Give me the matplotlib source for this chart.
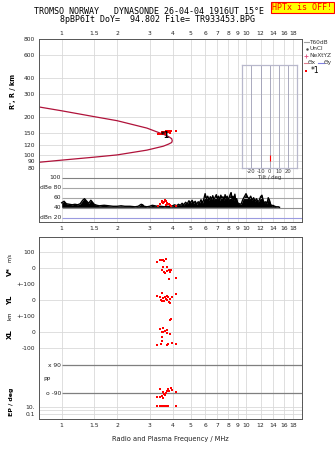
import matplotlib
matplotlib.use('Agg')
import matplotlib.pyplot as plt
import numpy as np

# frequency axis
freq_ticks = [1, 1.5, 2, 3, 4, 5, 6, 7, 8, 9, 10, 12, 14, 16, 18]
freq_labels = ['1', '1.5', '2', '3', '4', '5', '6', '7', '8', '9', '10', '12', '14', '16', '18']
f_lim = (0.756, 20.05)

# height axis
h_ticks = [80, 90, 100, 120, 150, 200, 300, 400, 600, 800]

# R' trace (upper branch then back along the lower branch)
trace_f = [0.75, 1.0, 1.5, 2.0, 2.9, 3.3, 3.6, 3.8, 3.95, 3.98, 3.95, 3.8, 3.56, 2.9, 2.0, 1.5, 1.0, 0.75]
trace_h = [238, 222, 200, 186, 163, 152, 145, 140, 135, 130, 126, 122.5, 118, 110, 101, 97, 92, 88.5]

# echoes of cluster *1
echo_f = [3.35, 3.42, 3.48, 3.52, 3.56, 3.6, 3.64, 3.68, 3.72, 3.76, 3.8, 3.85, 3.5, 3.62, 3.7, 3.9, 4.17]
echo_h = [147, 148, 150, 152, 151, 153, 150, 155, 154, 152, 155, 150, 146, 147, 149, 156, 156]
echo_db = [44, 47, 52, 54, 49, 52, 55, 53, 50, 48, 47, 46, 51, 53, 45, 44, 44]

# receiver noise
noise_f = [1.00, 1.03, 1.06, 1.10, 1.14, 1.18, 1.22, 1.26, 1.30, 1.33,
           1.36, 1.40, 1.44, 1.47, 1.50, 1.55, 1.60, 1.70, 1.80, 1.90,
           2.00, 2.10, 2.20, 2.35, 2.50, 2.60, 2.70, 2.75, 2.80, 2.90,
           3.00, 3.10, 3.20, 3.30, 3.45, 3.60, 3.75, 3.90, 4.00, 4.10,
           4.20, 4.30, 4.40, 4.50, 4.60, 4.70, 4.80, 4.90, 5.00, 5.10,
           5.20, 5.30, 5.40, 5.50, 5.60, 5.70, 5.80, 5.90, 6.00, 6.10,
           6.20, 6.30, 6.40, 6.50, 6.60, 6.70, 6.80, 6.90, 7.00, 7.10,
           7.20, 7.30, 7.40, 7.50, 7.60, 7.70, 7.80, 7.90, 8.00, 8.10,
           8.20, 8.30, 8.40, 8.50, 8.60, 8.70, 8.80, 8.90, 9.00, 9.20,
           9.40, 9.60, 9.80, 10.0, 10.2, 10.4, 10.6, 10.8, 11.0, 11.2,
           11.4, 11.6, 11.8, 12.0, 12.2, 12.4, 12.6, 12.8, 13.0, 13.2,
           13.4, 13.6, 13.8, 14.0, 14.3, 14.6, 15.0, 15.2]
noise_db = [50, 53, 48, 47, 46, 47, 46, 48, 55, 58,
            54, 49, 55, 51, 47, 45, 44, 45, 44, 43,
            43, 44, 43, 43, 42, 43, 47, 46, 43, 42,
            43, 45, 44, 43, 43, 42, 43, 42, 44, 46,
            44, 47, 45, 49, 46, 51, 48, 54, 50, 55,
            49, 53, 47, 52, 50, 56, 49, 57, 68, 58,
            63, 55, 62, 57, 64, 56, 61, 66, 58, 63,
            54, 65, 59, 62, 55, 66, 58, 63, 56, 60,
            66, 70, 57, 63, 55, 67, 52, 58, 50, 48,
            47, 56, 62, 68, 61, 58, 63, 55, 60, 53,
            58, 52, 55, 62, 65, 54, 50, 52, 48, 60,
            55, 47, 44, 45, 43, 42, 42, 41]

# Doppler velocity and echo location
v_f = [3.28, 3.42, 3.48, 3.56, 3.58, 3.66, 3.48, 3.56, 3.71, 3.63, 3.6, 3.75, 3.82, 3.93, 3.82, 4.16, 3.86]
v_ms = [37, 50, 54, 50, 42, 58, -12, 4, 8, -33, -26, -17, -12, -10, -69, -60, -22]
yl_f = [3.28, 3.42, 3.51, 3.46, 3.56, 3.63, 3.71, 3.79, 3.87, 3.95, 4.16, 3.48, 3.58, 3.75, 3.82, 3.88, 3.68]
yl_km = [25, 19, 44, 0, 10, 17, 25, 17, 8, 21, 37, -6, -4, -2, -12, -17, 4]
xl_f = [3.87, 3.93, 3.42, 3.53, 3.48, 3.56, 3.63, 3.71, 3.75, 3.87, 3.48, 3.48, 3.28, 3.46, 3.71, 3.79, 3.95, 4.16]
xl_km = [75, 83, 17, 25, 2, -2, 6, 13, -4, -12, -33, -54, -81, -75, -81, -75, -71, -75]

# polarization and elevation
pp_f = [3.42, 3.56, 3.63, 3.48, 3.71, 3.79, 3.9, 3.84, 3.95, 4.17, 3.42, 3.3, 3.56, 3.58, 3.67]
pp_deg = [-64, -84, -101, -105, -75, -62, -58, -73, -69, -80, -112, -116, -122, -95, -90]
ep_f = [3.30, 3.42, 3.49, 3.56, 3.60, 3.63, 3.70, 3.78, 4.17]
ep_deg = [18.8, 18.8, 12.9, 18.8, 12.9, 18.8, 15.5, 18.8, 15.5]

# tilt inset
tilt_ticks = [-20, -10, 0, 10, 20]
tilt_deg = [0]
tilt_h = [96]

grid_c = '#d9d9d9'
dark_c = '#7f7f7f'
trace_c = '#b0123a'
lab_font = dict(fontsize=4.3, color='#222222')
mono = 'DejaVu Sans Mono'

fig = plt.figure(figsize=(3.35, 4.51), dpi=100)
W, H = 335.0, 451.0
x0, x1 = 39.3, 301.7


def add_panel(top, bottom):
    return fig.add_axes([x0 / W, 1 - bottom / H, (x1 - x0) / W, (bottom - top) / H])


def style_freq(ax, top_labels=False, bottom_labels=False):
    ax.set_xscale('log')
    ax.set_xlim(f_lim)
    ax.set_xticks(freq_ticks)
    ax.set_xticklabels(freq_labels if (top_labels or bottom_labels) else [''] * len(freq_ticks), **lab_font)
    ax.xaxis.set_minor_locator(matplotlib.ticker.NullLocator())
    ax.tick_params(axis='x', length=0, pad=2.5,
                   labeltop=top_labels, labelbottom=bottom_labels)
    ax.grid(axis='x', color=grid_c, lw=0.6)
    ax.set_axisbelow(True)
    for s in ax.spines.values():
        s.set_color('#555555')
        s.set_linewidth(0.7)


# height panel
axh = add_panel(39.0, 171.5)
style_freq(axh, top_labels=True)
axh.set_yscale('log')
axh.set_ylim(75.1, 800)
axh.set_yticks(h_ticks)
axh.set_yticklabels([str(t) for t in h_ticks], **lab_font)
axh.yaxis.set_minor_locator(matplotlib.ticker.NullLocator())
axh.tick_params(axis='y', length=0, pad=3)
axh.grid(axis='y', color=grid_c, lw=0.6)
axh.spines['bottom'].set_visible(False)
axh.plot(trace_f, trace_h, color=trace_c, lw=0.9)
axh.plot(echo_f, echo_h, 's', color='red', ms=1.8, mew=0)
axh.text(3.66, 144, '*1', fontsize=5.5, fontweight='bold', ha='center', va='center')
fig.text(13 / W, 1 - 91 / H, "R', R / km", rotation=90,
         fontsize=4.8, fontweight='bold', ha='center', va='center')

# echo amplitude / noise panel
axd = add_panel(171.5, 222.3)
style_freq(axd, bottom_labels=True)
axd.set_ylim(11.3, 111.9)
axd.set_yticks([])
axd.spines['top'].set_visible(False)
db_lines = [100, 80, 60, 40, 20]
db_names = ['100', 'dBe 80', '60', '40', 'dBn 20']
db_cols = ['#808080', '#a6a6a6', '#a6a6a6', '#8c8c8c', '#9a9ae0']
for lv, name, col in zip(db_lines, db_names, db_cols):
    axd.hlines(lv, 1.0, f_lim[1], color=col, lw=0.8)
    axd.text(0.99, lv, name, ha='right', va='center', **lab_font)
axd.fill_between(noise_f, 41, noise_db, color='black', lw=0)
axd.plot(noise_f, noise_db, color='black', lw=1.0)
axd.plot(echo_f, echo_db, 's', color='red', ms=1.6, mew=0)

# tilt inset, drawn above the panels so its axis label stays visible
axt = fig.add_axes([242.3 / W, 1 - 167.7 / H, 55 / W, 102.7 / H])
axt.set_zorder(5)
axt.set_facecolor('none')
axt.set_xlim(-30, 30)
axt.set_yscale('log')
axt.set_ylim(80.3, 503)
axt.set_yticks([])
axt.yaxis.set_minor_locator(matplotlib.ticker.NullLocator())
axt.set_xticks(tilt_ticks)
axt.set_xticklabels([str(t) for t in tilt_ticks], fontsize=3.8, color='#333333')
axt.tick_params(axis='x', length=0, pad=1.2)
axt.set_xlabel('Tilt / deg', fontsize=3.8, color='#333333', labelpad=0.2)
axt.grid(axis='x', color='#9c9cb4', lw=0.6)
for s in axt.spines.values():
    s.set_color('#b8b8cc')
    s.set_linewidth(0.9)
axt.plot(tilt_deg, tilt_h, '|', color='red', ms=4, mew=0.8)

# Doppler velocity panel
axv = add_panel(237.3, 284.0)
style_freq(axv)
axv.set_ylim(-100, 193.75)
axv.set_yticks([100, 0, -100])
axv.set_yticklabels(['100', '0', '+-100'], **lab_font)
axv.tick_params(axis='y', length=0, pad=3)
axv.grid(axis='y', color=grid_c, lw=0.6)
axv.spines['bottom'].set_visible(False)
axv.plot(v_f, v_ms, 's', color='red', ms=1.6, mew=0)

axy = add_panel(284.0, 316.0)
style_freq(axy)
axy.set_ylim(-100, 100)
axy.set_yticks([0, -100])
axy.set_yticklabels(['0', '+-100'], **lab_font)
axy.tick_params(axis='y', length=0, pad=3)
axy.grid(axis='y', color=grid_c, lw=0.6)
axy.spines['top'].set_visible(False)
axy.spines['bottom'].set_visible(False)
axy.plot(yl_f, yl_km, 's', color='red', ms=1.6, mew=0)

axx = add_panel(316.0, 356.0)
style_freq(axx)
axx.set_ylim(-150, 100)
axx.set_yticks([0, -100])
axx.set_yticklabels(['0', '-100'], **lab_font)
axx.tick_params(axis='y', length=0, pad=3)
axx.grid(axis='y', color=grid_c, lw=0.6)
axx.spines['top'].set_visible(False)
axx.spines['bottom'].set_visible(False)
axx.plot(xl_f, xl_km, 's', color='red', ms=1.6, mew=0)

# polarization panel
axp = add_panel(356.0, 402.0)
style_freq(axp)
axp.set_ylim(-146, 149.8)
axp.set_yticks([])
axp.spines['top'].set_visible(False)
axp.spines['bottom'].set_visible(False)
for lv, name in zip([90, -90], ['x 90', 'o -90']):
    axp.hlines(lv, 1.0, f_lim[1], color=dark_c, lw=0.9)
    axp.text(0.99, lv, name, ha='right', va='center', **lab_font)
axp.text(0.83, 0, 'PP', ha='center', va='center', **lab_font)
axp.plot(pp_f, pp_deg, 's', color='red', ms=1.6, mew=0)

# elevation panel
axe = add_panel(402.0, 419.3)
style_freq(axe, bottom_labels=True)
axe.set_yscale('log')
axe.set_ylim(0.0035, 195)
axe.set_yticks([10, 0.1])
axe.set_yticklabels(['10.', '0.1'], **lab_font)
axe.yaxis.set_minor_locator(matplotlib.ticker.NullLocator())
axe.tick_params(axis='y', length=0, pad=3)
for lv in [10, 1, 0.1]:
    axe.axhline(lv, color=grid_c, lw=0.6)
axe.spines['top'].set_visible(False)
axe.plot(ep_f, ep_deg, 's', color='red', ms=1.6, mew=0)
axe.set_xlabel('Radio and Plasma Frequency / MHz', fontsize=4.8, color='#222222', labelpad=6)

# side labels of the lower panels
side = dict(rotation=90, ha='center', va='center', transform=fig.transFigure)
fig.text(10 / W, 1 - 272 / H, 'V*', fontsize=5, fontweight='bold', **side)
fig.text(10 / W, 1 - 257 / H, 'm/s', fontsize=3.5, **side)
fig.text(10 / W, 1 - 300 / H, 'YL', fontsize=5, fontweight='bold', **side)
fig.text(10 / W, 1 - 316 / H, 'km', fontsize=3.8, **side)
fig.text(10 / W, 1 - 334 / H, 'XL', fontsize=5, fontweight='bold', **side)
fig.text(12 / W, 1 - 402 / H, 'EP / deg', fontsize=4.5, fontweight='bold', **side)

# header
fig.text(149 / W, 1 - 12 / H, 'TROMSO NORWAY   DYNASONDE 26-04-04 1916UT 15°E',
         family=mono, fontsize=6, ha='center', va='center')
fig.text(157.5 / W, 1 - 20 / H, '8pBP6It DoY=  94.802 File= TR933453.BPG',
         family=mono, fontsize=6, ha='center', va='center')
fig.text(302.5 / W, 1 - 7.5 / H, 'HPTx is OFF!', family=mono, fontsize=6, color='red',
         ha='center', va='center',
         bbox=dict(boxstyle='square,pad=0.15', facecolor='#ffff00', edgecolor='red', lw=0.8))

# legend
lx = 303.5
fig.add_artist(plt.Line2D([lx / W, (lx + 5) / W], [1 - 42 / H] * 2, color='#a0a0a0', lw=0.8))
fig.text((lx + 6) / W, 1 - 42 / H, 'T60dB', fontsize=4.2, va='center', color='#333333')
fig.add_artist(plt.Line2D([(lx + 3) / W], [1 - 48.7 / H], marker='.', color='#444444', ms=1.5))
fig.text((lx + 6) / W, 1 - 48.7 / H, 'UnCl', fontsize=4.2, va='center', color='#333333')
fig.add_artist(plt.Line2D([(lx + 2.5) / W], [1 - 55.7 / H], marker='+', color='#e05080', ms=3, mew=0.6))
fig.text((lx + 6) / W, 1 - 55.7 / H, 'NeXtYZ', fontsize=4.2, va='center', color='#333333')
fig.add_artist(plt.Line2D([lx / W, (lx + 4) / W], [1 - 62.5 / H] * 2, color='#e08090', lw=0.8))
fig.text((lx + 4.5) / W, 1 - 62.5 / H, 'Θx', fontsize=4.2, va='center', color='#333333')
fig.add_artist(plt.Line2D([(lx + 14) / W, (lx + 20) / W], [1 - 62.5 / H] * 2, color='#8080e0', lw=0.8))
fig.text((lx + 20.5) / W, 1 - 62.5 / H, 'Θy', fontsize=4.2, va='center', color='#333333')
fig.add_artist(plt.Line2D([(lx + 2.5) / W], [1 - 70.5 / H], marker='s', color='red', ms=2, mew=0))
fig.text((lx + 7.5) / W, 1 - 70.5 / H, '*1', fontsize=5.5, va='center', color='black')

fig.savefig('out.png', dpi=100)
